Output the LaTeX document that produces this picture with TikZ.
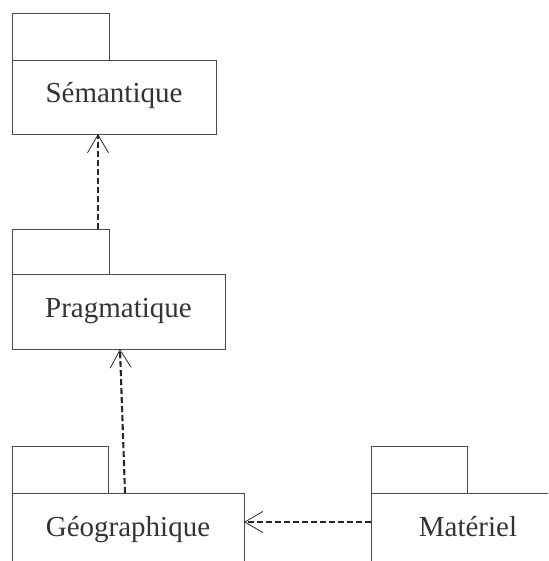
\documentclass[tikz,border=0pt]{standalone}
\usepackage{fontspec}
\setmainfont{Liberation Serif}
\usetikzlibrary{arrows.meta}
\definecolor{linec}{HTML}{4A4A4A}
\definecolor{textc}{HTML}{333333}
\begin{document}
\begin{tikzpicture}[x=1pt,y=-1pt,
  box/.style={draw=linec,line width=0.9pt,inner sep=0pt,outer sep=0pt,
    text=textc,font=\fontsize{29}{34}\selectfont,text height=12pt,text depth=0pt},
  tabbox/.style={draw=linec,line width=0.9pt,inner sep=0pt,outer sep=0pt},
  dep/.style={draw=black!85,line width=2.1pt,dash pattern=on 6pt off 3pt,
    -{Straight Barb[length=18pt,width=21pt,line width=0.8pt]}}]
\useasboundingbox (0,0) rectangle (548,561);
\begin{scope}
\clip (0,0) rectangle (548,561);
\node[tabbox,minimum width=97pt,minimum height=47pt] (semtab) at (60.5,36.5) {};
\node[box,minimum width=204pt,minimum height=74pt] (sem) at (114,97) {Sémantique};
\node[tabbox,minimum width=97pt,minimum height=45pt] (pragtab) at (60.5,251.5) {};
\node[box,minimum width=213pt,minimum height=75pt] (prag) at (118.5,311.5) {Pragmatique};
\node[tabbox,minimum width=96pt,minimum height=47pt] (geotab) at (60,469.5) {};
\node[box,minimum width=232pt,minimum height=75pt] (geo) at (128,530.5) {Géographique};
\node[tabbox,minimum width=96pt,minimum height=47pt] (mattab) at (419,469.5) {};
\node[box,minimum width=194pt,minimum height=75pt] (mat) at (468,530.5) {Matériel};
\draw[dep] ([xshift=-11pt]pragtab.north east) -- ([xshift=-11pt]pragtab.north east |- sem.south);
\draw[dep] ([xshift=-3pt]geo.north) -- ([xshift=1.5pt]prag.south);
\draw[dep] ([yshift=8.5pt]mat.west) -- ([yshift=8.5pt]geo.east);
\end{scope}
\end{tikzpicture}
\end{document}
